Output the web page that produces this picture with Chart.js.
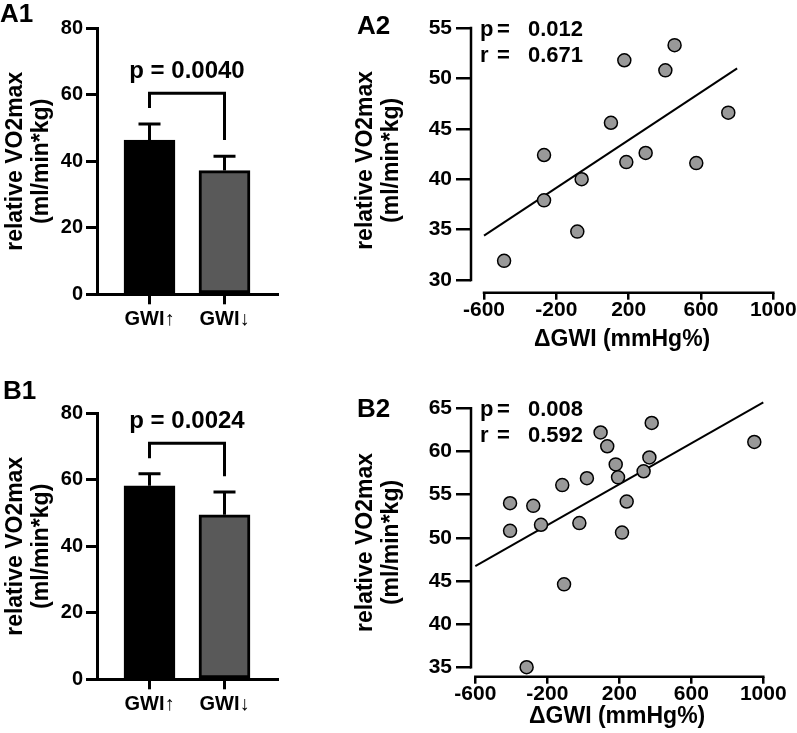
<!DOCTYPE html>
<html>
<head>
<meta charset="utf-8">
<script src="https://cdn.jsdelivr.net/npm/chart.js@4.4.0/dist/chart.umd.min.js"></script>
<style>
  body { margin: 0; background: #fff; }
  #fig { position: relative; width: 797px; height: 733px; overflow: hidden; background: #fff; }
  #fig canvas, .panel { position: absolute; }
  .panel { font: bold 26px "Liberation Sans", Arial, sans-serif; line-height: 1; color: #000; }
</style>
</head>
<body>
<div id="fig">
  <canvas id="a1" width="290" height="345" style="left:0;top:0;width:290px;height:345px"></canvas>
  <canvas id="a2" width="447" height="354" style="left:350px;top:0;width:447px;height:354px"></canvas>
  <canvas id="b1" width="290" height="373" style="left:0;top:360px;width:290px;height:373px"></canvas>
  <canvas id="b2" width="447" height="373" style="left:350px;top:360px;width:447px;height:373px"></canvas>
  <div class="panel" style="left:0;top:0">A1</div>
  <div class="panel" style="left:357px;top:12px">A2</div>
  <div class="panel" style="left:3px;top:377px">B1</div>
  <div class="panel" style="left:357px;top:395px">B2</div>
</div>
<script>
// bar panels (mean + SD)
const groups = ['GWI↑', 'GWI↓'];
const a1Mean = [46.4, 37.2];
const a1Sd = [4.8, 4.3];
const b1Mean = [58.2, 49.5];
const b1Sd = [3.6, 6.8];
const barTicks = [0, 20, 40, 60, 80];
// bracket: left leg end, top, right leg end
const a1Bracket = [56.0, 60.5, 46.4];
const b1Bracket = [66.5, 71.0, 61.1];
const a1P = 'p = 0.0040';
const b1P = 'p = 0.0024';

// scatter panels
const a2Gwi = [-489, -268, -268, -84, -60, 102, 176, 187, 294, 403, 454, 574, 751];
const a2Vo2 = [31.9, 37.9, 42.4, 34.8, 40.0, 45.6, 51.8, 41.7, 42.6, 50.8, 53.3, 41.6, 46.6];
const a2FitX = [-600, 800];
const a2FitY = [34.4, 51.0];
const a2Stats = ['0.012', '0.671'];
const a2YTicks = [30, 35, 40, 45, 50, 55];

const b2Gwi = [-407, -407, -315, -278, -235, -117, -107, -22, 20, 96, 133, 180, 193, 215, 241, 335, 367, 380, 950];
const b2Vo2 = [54.0, 50.8, 35.0, 53.7, 51.5, 56.1, 44.6, 51.7, 56.9, 62.2, 60.6, 58.5, 57.0, 50.6, 54.2, 57.7, 59.3, 63.3, 61.1];
const b2FitX = [-600, 1000];
const b2FitY = [46.7, 65.7];
const b2Stats = ['0.008', '0.592'];
const b2YTicks = [35, 40, 45, 50, 55, 60, 65];

const gwiTicks = [-600, -200, 200, 600, 1000];

const FONT = '"Liberation Sans", Arial, sans-serif';
Chart.defaults.font.family = FONT;
Chart.defaults.font.weight = 'bold';
Chart.defaults.color = '#000';

const yTitle = ['relative VO2max', '(ml/min*kg)'];

const barExtras = {
  id: 'barExtras',
  afterDatasetsDraw(chart, args, opts) {
    const { ctx, scales: { x, y } } = chart;
    ctx.save();
    ctx.strokeStyle = '#000';
    ctx.lineWidth = 3;
    opts.mean.forEach((m, i) => {
      const px = x.getPixelForValue(i + 1);
      const top = y.getPixelForValue(m + opts.sd[i]);
      ctx.beginPath();
      ctx.moveTo(px, y.getPixelForValue(m));
      ctx.lineTo(px, top);
      ctx.moveTo(px - 11, top);
      ctx.lineTo(px + 11, top);
      ctx.stroke();
    });
    const [l, t, r] = opts.bracket;
    const x1 = x.getPixelForValue(1), x2 = x.getPixelForValue(2);
    ctx.beginPath();
    ctx.moveTo(x1, y.getPixelForValue(l));
    ctx.lineTo(x1, y.getPixelForValue(t));
    ctx.lineTo(x2, y.getPixelForValue(t));
    ctx.lineTo(x2, y.getPixelForValue(r));
    ctx.stroke();
    ctx.fillStyle = '#000';
    ctx.font = 'bold 24px ' + FONT;
    ctx.textAlign = 'center';
    ctx.textBaseline = 'middle';
    ctx.fillText(opts.label, (x1 + x2) / 2, y.getPixelForValue(t) - 22);
    ctx.restore();
  }
};

function makeBar(id, mean, sd, bracket, label, top, bottom) {
  const c = document.getElementById(id);
  return new Chart(c, {
    type: 'bar',
    data: {
      datasets: [{
        data: mean.map((v, i) => ({ x: i + 1, y: v })),
        backgroundColor: ['#000000', '#595959'],
        borderColor: '#000',
        borderWidth: 3,
        borderSkipped: false,
        barThickness: 51
      }]
    },
    options: {
      responsive: false,
      animation: false,
      events: [],
      layout: { padding: { left: 0, right: 13, top: top, bottom: 0 } },
      plugins: {
        legend: { display: false },
        tooltip: { enabled: false },
        barExtras: { mean: mean, sd: sd, bracket: bracket, label: label }
      },
      scales: {
        x: {
          type: 'linear',
          min: 0.3,
          max: 2.7,
          offset: false,
          afterBuildTicks: s => { s.ticks = groups.map((g, i) => ({ value: i + 1 })); },
          afterFit: s => { s.height = c.height - bottom; },
          border: { display: true, color: '#000', width: 3 },
          grid: { offset: false, drawOnChartArea: false, tickLength: 10, color: '#000', lineWidth: 3 },
          ticks: { font: { size: 20 }, padding: 3, maxRotation: 0, autoSkip: false, callback: v => groups[v - 1] }
        },
        y: {
          min: 0,
          max: 80,
          afterBuildTicks: s => { s.ticks = barTicks.map(v => ({ value: v })); },
          afterFit: s => { s.width = 97; },
          border: { display: true, color: '#000', width: 3 },
          grid: { drawOnChartArea: false, tickLength: 11, color: '#000', lineWidth: 3 },
          ticks: { font: { size: 20 }, padding: 3, callback: v => String(v) },
          title: { display: true, text: yTitle, font: { size: 23, lineHeight: 1.13 }, padding: { top: 3, bottom: 0 } }
        }
      }
    },
    plugins: [barExtras]
  });
}

const scatterExtras = {
  id: 'scatterExtras',
  beforeDatasetsDraw(chart, args, opts) {
    const { ctx, chartArea, scales: { x, y } } = chart;
    ctx.save();
    ctx.strokeStyle = '#000';
    ctx.lineWidth = 2.5;
    ctx.lineCap = 'square';
    ctx.beginPath();
    ctx.moveTo(chartArea.left, y.getPixelForValue(opts.yTicks[0]));
    ctx.lineTo(chartArea.left, y.getPixelForValue(opts.yTicks[opts.yTicks.length - 1]));
    ctx.moveTo(x.getPixelForValue(gwiTicks[0]), chartArea.bottom);
    ctx.lineTo(x.getPixelForValue(gwiTicks[gwiTicks.length - 1]), chartArea.bottom);
    ctx.stroke();
    ctx.restore();
  },
  afterDraw(chart, args, opts) {
    const { ctx, chartArea } = chart;
    ctx.save();
    ctx.fillStyle = '#000';
    ctx.font = 'bold 22px ' + FONT;
    ctx.textBaseline = 'middle';
    ctx.textAlign = 'left';
    const L = chartArea.left + 9;
    [['p', opts.stats[0]], ['r', opts.stats[1]]].forEach((row, i) => {
      const ty = chartArea.top + 2 + i * 26;
      ctx.fillText(row[0], L, ty);
      ctx.fillText('=', L + 17, ty);
      ctx.fillText(row[1], L + 48, ty);
    });
    ctx.restore();
  }
};

function makeScatter(id, gwi, vo2, fitX, fitY, xMin, yMin, yTicks, stats, pad, bottom, titlePad) {
  const c = document.getElementById(id);
  return new Chart(c, {
    type: 'scatter',
    data: {
      datasets: [{
        data: gwi.map((g, i) => ({ x: g, y: vo2[i] })),
        pointRadius: 6.5,
        pointHoverRadius: 6.5,
        pointBackgroundColor: '#999999',
        pointBorderColor: '#000',
        pointBorderWidth: 1.5
      }, {
        type: 'line',
        data: fitX.map((v, i) => ({ x: v, y: fitY[i] })),
        borderColor: '#000',
        borderWidth: 2,
        pointRadius: 0,
        fill: false,
        clip: false
      }]
    },
    options: {
      responsive: false,
      animation: false,
      events: [],
      layout: { padding: pad },
      plugins: {
        legend: { display: false },
        tooltip: { enabled: false },
        scatterExtras: { yTicks: yTicks, stats: stats }
      },
      scales: {
        x: {
          type: 'linear',
          min: xMin,
          max: 1000,
          afterBuildTicks: s => { s.ticks = gwiTicks.map(v => ({ value: v })); },
          afterFit: s => { s.height = c.height - bottom; },
          border: { display: false },
          grid: { drawOnChartArea: false, tickLength: 7, color: '#000', lineWidth: 2.5 },
          ticks: { font: { size: 21 }, padding: -2, maxRotation: 0, autoSkip: false, callback: v => String(v) },
          title: { display: true, text: 'ΔGWI (mmHg%)', font: { size: 23, lineHeight: 1.13 }, padding: { top: 0, bottom: titlePad } }
        },
        y: {
          min: yMin,
          max: yTicks[yTicks.length - 1],
          afterBuildTicks: s => { s.ticks = yTicks.map(v => ({ value: v })); },
          afterFit: s => { s.width = 121; },
          border: { display: false },
          grid: { drawOnChartArea: false, tickLength: 15, color: '#000', lineWidth: 2.5 },
          ticks: { font: { size: 21 }, padding: 4, callback: v => String(v) },
          title: { display: true, text: yTitle, font: { size: 23, lineHeight: 1.13 }, padding: { top: 3, bottom: 0 } }
        }
      }
    },
    plugins: [scatterExtras]
  });
}

makeBar('a1', a1Mean, a1Sd, a1Bracket, a1P, 28.3, 294.3);
makeBar('b1', b1Mean, b1Sd, b1Bracket, b1P, 53.3, 319.3);
makeScatter('a2', a2Gwi, a2Vo2, a2FitX, a2FitY, -672, 28.74, a2YTicks, a2Stats,
  { left: 0, right: 23.7, top: 28, bottom: 0 }, 292.7, 1);
makeScatter('b2', b2Gwi, b2Vo2, b2FitX, b2FitY, -624, 33.9, b2YTicks, b2Stats,
  { left: 0, right: 33.7, top: 48.3, bottom: 0 }, 316.7, 3);
</script>
</body>
</html>
